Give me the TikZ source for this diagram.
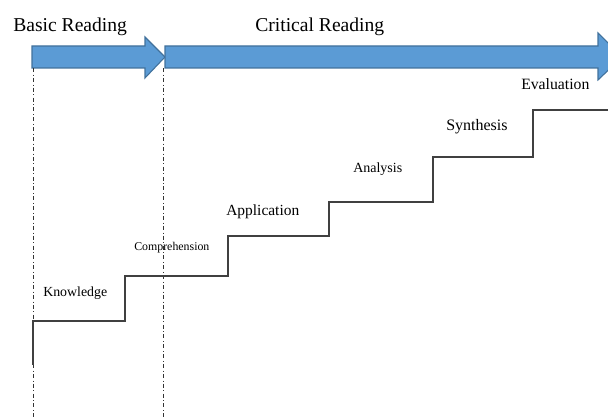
\documentclass[tikz,border=0pt]{standalone}
\usepackage{fontspec}
\setmainfont{Liberation Serif}
\usepackage{xcolor}
\usepackage{tikz}
\usetikzlibrary{positioning}

\definecolor{barblue}{HTML}{5B9BD5}
\definecolor{barline}{HTML}{41719C}

\begin{document}
\begin{tikzpicture}[x=0.75pt, y=-0.75pt,
    every node/.style={inner sep=0pt, anchor=base west},
    band/.style={fill=barblue, draw=barline, line width=0.8pt},
    guide/.style={dash dot, line width=0.6pt, black!80},
    stairs/.style={line width=1.2pt, black!75},
    lbl/.style={font=\fontsize{#1}{#1}\selectfont}
]
\useasboundingbox (0,0) rectangle (608,417);
\clip (0,0) rectangle (608,417);

% Arrows
\draw[band] (32,46) -- (145,46) -- (145,37) -- (165,57) -- (145,78) -- (145,68) -- (32,68) -- cycle;
\draw[band] (165,46) -- (598,46) -- (598,33) -- (622,57) -- (598,80) -- (598,68) -- (165,68) -- cycle;

% Headings
\node[lbl=14.7] (basic) at (13,32) {Basic Reading};
\node[lbl=14.7] (critical) at (255,32) {Critical Reading};

% Guides
\draw[guide] (33,68) -- (33,417);
\draw[guide] (163,68) -- (163,417);

% Staircase
\draw[stairs] (33,365) -- (33,321) -- (125,321) -- (125,276) -- (228,276) -- (228,236)
    -- (329,236) -- (329,202) -- (433,202) -- (433,157) -- (533,157) -- (533,110) -- (610,110);

% Levels
\node[lbl=10.4] (knowledge) at (43,297) {Knowledge};
\node[lbl=8.9] (comprehension) at (134,251) {Comprehension};
\node[lbl=11.6] (application) at (226,216) {Application};
\node[lbl=10.5] (analysis) at (353,173) {Analysis};
\node[lbl=12] (synthesis) at (446,131) {Synthesis};
\node[lbl=11.8] (evaluation) at (521,90) {Evaluation};

\end{tikzpicture}
\end{document}
